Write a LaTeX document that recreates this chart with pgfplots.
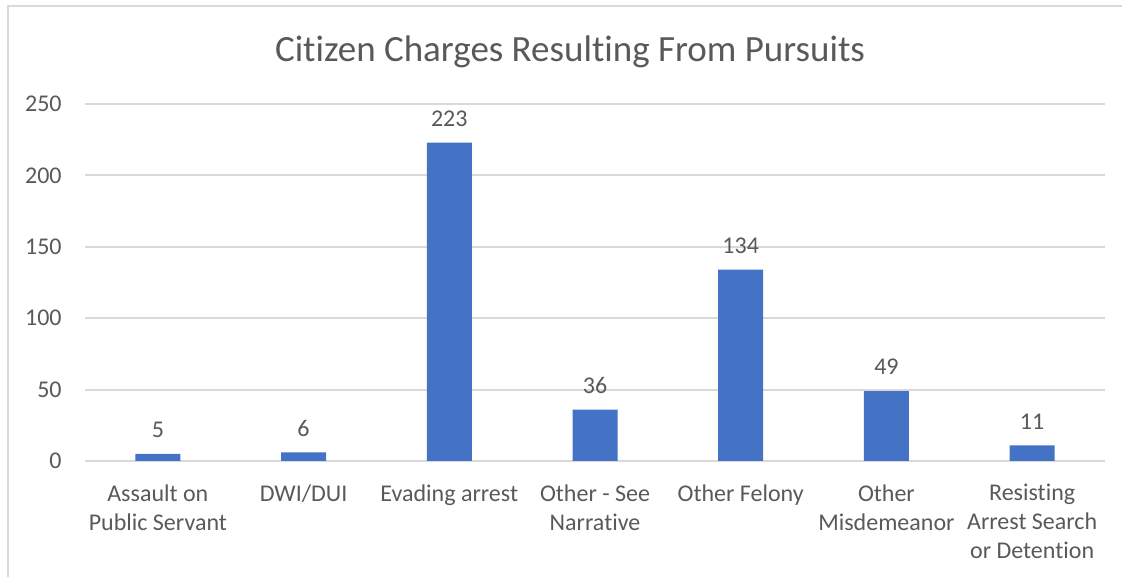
\documentclass[border=0pt]{standalone}
\usepackage{pgfplots}
\pgfplotsset{compat=1.18}
\usepackage{fontspec}
\setmainfont[Ligatures=NoCommon]{Carlito}
\definecolor{barblue}{HTML}{4472C4}
\definecolor{txtgray}{HTML}{595959}
\definecolor{gridgray}{HTML}{D9D9D9}
\begin{document}
\begin{tikzpicture}
\path[use as bounding box] (0,0) rectangle (561pt,288.5pt);
\draw[gridgray, line width=1pt] (4pt,0) -- (4pt,285.5pt) -- (561pt,285.5pt);
\node[txtgray, font=\fontsize{18.5}{22}\selectfont] at (285pt,262.5pt) {Citizen Charges Resulting From Pursuits};
\begin{axis}[
  at={(42.5pt,58pt)}, anchor=south west,
  width=510pt, height=178.5pt, scale only axis,
  xmin=-0.5, xmax=6.5, ymin=0, ymax=250,
  ytick={0,50,100,150,200,250},
  xtick={0,1,2,3,4,5,6},
  xticklabels={{Assault on\\Public Servant},{DWI/DUI},{Evading arrest},{Other - See\\Narrative},{Other Felony},{Other\\Misdemeanor},{Resisting\\Arrest Search\\or Detention}},
  x tick label style={align=center, font=\fontsize{12}{14.5}\selectfont, text=txtgray, inner sep=0pt, anchor=north, yshift=-11.5pt},
  y tick label style={font=\fontsize{12}{14}\selectfont, text=txtgray, inner sep=0pt, anchor=east, xshift=-11.5pt},
  /pgf/number format/assume math mode=true,
  axis line style={draw=none},
  axis x line*=bottom,
  x axis line style={draw=gridgray, line width=1pt},
  major tick length=0pt,
  ymajorgrids, grid style={gridgray, line width=1pt},
  ybar, bar width=22.5pt,
  nodes near coords,
  every node near coord/.append style={font=\fontsize{12}{14}\selectfont, text=txtgray, anchor=center, inner sep=0pt, yshift=12pt},
  clip=false,
]
\addplot[fill=barblue, draw=none] coordinates {(0,5) (1,6) (2,223) (3,36) (4,134) (5,49) (6,11)};
\end{axis}
\end{tikzpicture}
\end{document}
